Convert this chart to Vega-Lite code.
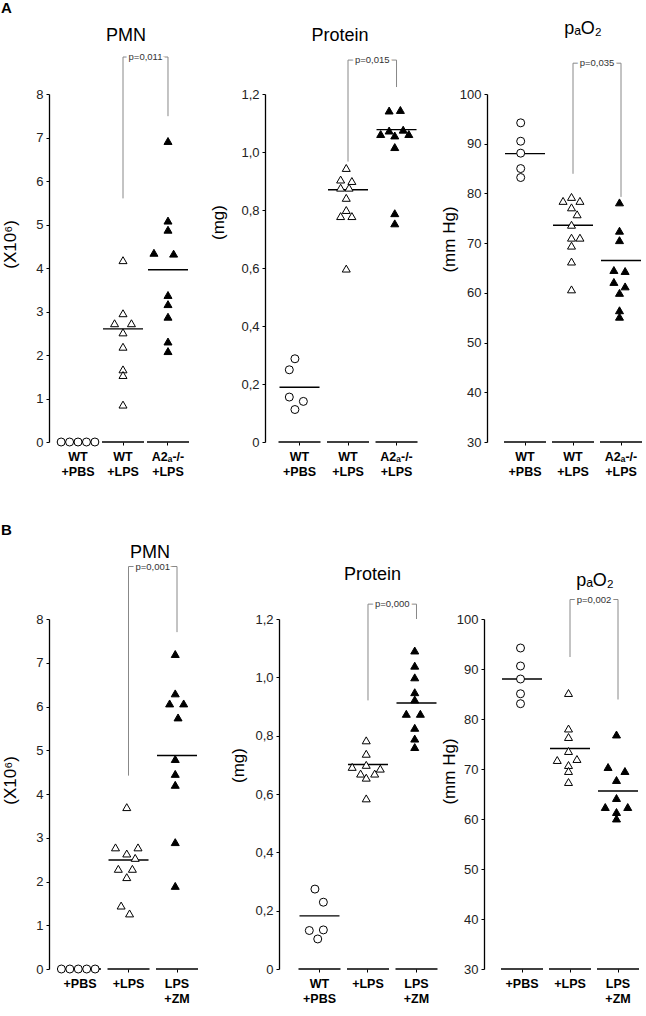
{
"$schema":"https://vega.github.io/schema/vega-lite/v6.json",
"padding":{"left":1,"top":1,"right":0,"bottom":0},
"background":"white",
"config":{
 "view":{"stroke":null},
 "font":"Liberation Sans",
 "tick":{"opacity":1},
 "axisX":{"domain":false,"ticks":true,"tickSize":3,"tickColor":"black","tickWidth":1,"labelFontWeight":"bold","labelFontSize":12.5,"labelColor":"black","labelPadding":5,"labelLineHeight":15,"labelAngle":0,"labelLimit":0,"labelExpr":"split(datum.value,'|')","grid":false},
 "axisY":{"grid":false,"domainColor":"black","domainWidth":1.3,"tickColor":"black","tickSize":3,"labelFontSize":13,"labelColor":"#222","labelPadding":3,"titleFontSize":17,"titleFontWeight":"normal","titleColor":"black"},
 "title":{"fontSize":18,"fontWeight":"normal","color":"black","font":"Liberation Sans","frame":"group"}
},
"datasets":{
"points":[
{"panel":"A1","group":"WT|+PBS","value":0,"slot":-6},{"panel":"A1","group":"WT|+PBS","value":0,"slot":-3},{"panel":"A1","group":"WT|+PBS","value":0,"slot":0},{"panel":"A1","group":"WT|+PBS","value":0,"slot":3},{"panel":"A1","group":"WT|+PBS","value":0,"slot":6},
{"panel":"A1","group":"WT|+LPS","value":4.18,"slot":0},{"panel":"A1","group":"WT|+LPS","value":2.96,"slot":0},{"panel":"A1","group":"WT|+LPS","value":2.73,"slot":-3},{"panel":"A1","group":"WT|+LPS","value":2.73,"slot":3},{"panel":"A1","group":"WT|+LPS","value":2.52,"slot":0},{"panel":"A1","group":"WT|+LPS","value":2.19,"slot":0},{"panel":"A1","group":"WT|+LPS","value":1.67,"slot":0},{"panel":"A1","group":"WT|+LPS","value":1.54,"slot":0},{"panel":"A1","group":"WT|+LPS","value":0.86,"slot":0},
{"panel":"A1","group":"A2ₐ-/-|+LPS","value":6.92,"slot":0},{"panel":"A1","group":"A2ₐ-/-|+LPS","value":5.09,"slot":0},{"panel":"A1","group":"A2ₐ-/-|+LPS","value":4.88,"slot":0},{"panel":"A1","group":"A2ₐ-/-|+LPS","value":4.35,"slot":-5},{"panel":"A1","group":"A2ₐ-/-|+LPS","value":4.33,"slot":2},{"panel":"A1","group":"A2ₐ-/-|+LPS","value":3.38,"slot":0},{"panel":"A1","group":"A2ₐ-/-|+LPS","value":3.17,"slot":0},{"panel":"A1","group":"A2ₐ-/-|+LPS","value":2.88,"slot":0},{"panel":"A1","group":"A2ₐ-/-|+LPS","value":2.31,"slot":0},{"panel":"A1","group":"A2ₐ-/-|+LPS","value":2.09,"slot":0},
{"panel":"A2","group":"WT|+PBS","value":0.287,"slot":-1},{"panel":"A2","group":"WT|+PBS","value":0.249,"slot":-3},{"panel":"A2","group":"WT|+PBS","value":0.155,"slot":-3},{"panel":"A2","group":"WT|+PBS","value":0.14,"slot":2},{"panel":"A2","group":"WT|+PBS","value":0.112,"slot":-1},
{"panel":"A2","group":"WT|+LPS","value":0.945,"slot":0},{"panel":"A2","group":"WT|+LPS","value":0.905,"slot":-2},{"panel":"A2","group":"WT|+LPS","value":0.9,"slot":2},{"panel":"A2","group":"WT|+LPS","value":0.877,"slot":-2},{"panel":"A2","group":"WT|+LPS","value":0.877,"slot":1},{"panel":"A2","group":"WT|+LPS","value":0.842,"slot":0},{"panel":"A2","group":"WT|+LPS","value":0.8,"slot":0},{"panel":"A2","group":"WT|+LPS","value":0.779,"slot":-2},{"panel":"A2","group":"WT|+LPS","value":0.779,"slot":2},{"panel":"A2","group":"WT|+LPS","value":0.598,"slot":0},
{"panel":"A2","group":"A2ₐ-/-|+LPS","value":1.143,"slot":-2},{"panel":"A2","group":"A2ₐ-/-|+LPS","value":1.145,"slot":2},{"panel":"A2","group":"A2ₐ-/-|+LPS","value":1.062,"slot":-5},{"panel":"A2","group":"A2ₐ-/-|+LPS","value":1.074,"slot":-2},{"panel":"A2","group":"A2ₐ-/-|+LPS","value":1.057,"slot":0},{"panel":"A2","group":"A2ₐ-/-|+LPS","value":1.077,"slot":3},{"panel":"A2","group":"A2ₐ-/-|+LPS","value":1.062,"slot":5},{"panel":"A2","group":"A2ₐ-/-|+LPS","value":1.017,"slot":0},{"panel":"A2","group":"A2ₐ-/-|+LPS","value":0.789,"slot":0},{"panel":"A2","group":"A2ₐ-/-|+LPS","value":0.754,"slot":0},
{"panel":"A3","group":"WT|+PBS","value":94.2,"slot":-1},{"panel":"A3","group":"WT|+PBS","value":90.5,"slot":-1},{"panel":"A3","group":"WT|+PBS","value":88.1,"slot":-1},{"panel":"A3","group":"WT|+PBS","value":85.0,"slot":-1},{"panel":"A3","group":"WT|+PBS","value":83.2,"slot":-1},
{"panel":"A3","group":"WT|+LPS","value":79.3,"slot":0},{"panel":"A3","group":"WT|+LPS","value":78.5,"slot":-3},{"panel":"A3","group":"WT|+LPS","value":78.5,"slot":3},{"panel":"A3","group":"WT|+LPS","value":77.2,"slot":0},{"panel":"A3","group":"WT|+LPS","value":75.8,"slot":2},{"panel":"A3","group":"WT|+LPS","value":73.7,"slot":0},{"panel":"A3","group":"WT|+LPS","value":71.1,"slot":0},{"panel":"A3","group":"WT|+LPS","value":71.1,"slot":3},{"panel":"A3","group":"WT|+LPS","value":69.5,"slot":0},{"panel":"A3","group":"WT|+LPS","value":66.3,"slot":0},{"panel":"A3","group":"WT|+LPS","value":60.7,"slot":0},
{"panel":"A3","group":"A2ₐ-/-|+LPS","value":78.2,"slot":0},{"panel":"A3","group":"A2ₐ-/-|+LPS","value":72.5,"slot":0},{"panel":"A3","group":"A2ₐ-/-|+LPS","value":70.6,"slot":0},{"panel":"A3","group":"A2ₐ-/-|+LPS","value":64.6,"slot":-2},{"panel":"A3","group":"A2ₐ-/-|+LPS","value":64.4,"slot":2},{"panel":"A3","group":"A2ₐ-/-|+LPS","value":62.2,"slot":-2},{"panel":"A3","group":"A2ₐ-/-|+LPS","value":61.3,"slot":2},{"panel":"A3","group":"A2ₐ-/-|+LPS","value":60.0,"slot":0},{"panel":"A3","group":"A2ₐ-/-|+LPS","value":56.5,"slot":0},{"panel":"A3","group":"A2ₐ-/-|+LPS","value":55.2,"slot":0},
{"panel":"B1","group":"+PBS","value":0,"slot":-6},{"panel":"B1","group":"+PBS","value":0,"slot":-3},{"panel":"B1","group":"+PBS","value":0,"slot":0},{"panel":"B1","group":"+PBS","value":0,"slot":3},{"panel":"B1","group":"+PBS","value":0,"slot":6},
{"panel":"B1","group":"+LPS","value":3.7,"slot":0},{"panel":"B1","group":"+LPS","value":2.78,"slot":-4},{"panel":"B1","group":"+LPS","value":2.78,"slot":4},{"panel":"B1","group":"+LPS","value":2.64,"slot":0},{"panel":"B1","group":"+LPS","value":2.54,"slot":3},{"panel":"B1","group":"+LPS","value":2.29,"slot":-3},{"panel":"B1","group":"+LPS","value":2.29,"slot":2},{"panel":"B1","group":"+LPS","value":2.1,"slot":0},{"panel":"B1","group":"+LPS","value":1.45,"slot":-2},{"panel":"B1","group":"+LPS","value":1.27,"slot":1},
{"panel":"B1","group":"LPS|+ZM","value":7.2,"slot":0},{"panel":"B1","group":"LPS|+ZM","value":6.3,"slot":0},{"panel":"B1","group":"LPS|+ZM","value":6.07,"slot":-2},{"panel":"B1","group":"LPS|+ZM","value":6.07,"slot":3},{"panel":"B1","group":"LPS|+ZM","value":5.75,"slot":1},{"panel":"B1","group":"LPS|+ZM","value":4.8,"slot":0},{"panel":"B1","group":"LPS|+ZM","value":4.46,"slot":0},{"panel":"B1","group":"LPS|+ZM","value":4.21,"slot":0},{"panel":"B1","group":"LPS|+ZM","value":2.9,"slot":0},{"panel":"B1","group":"LPS|+ZM","value":1.9,"slot":0},
{"panel":"B2","group":"WT|+PBS","value":0.274,"slot":-1},{"panel":"B2","group":"WT|+PBS","value":0.229,"slot":2},{"panel":"B2","group":"WT|+PBS","value":0.132,"slot":-3},{"panel":"B2","group":"WT|+PBS","value":0.134,"slot":2},{"panel":"B2","group":"WT|+PBS","value":0.103,"slot":0},
{"panel":"B2","group":"+LPS","value":0.784,"slot":0},{"panel":"B2","group":"+LPS","value":0.738,"slot":0},{"panel":"B2","group":"+LPS","value":0.693,"slot":-5},{"panel":"B2","group":"+LPS","value":0.7,"slot":0},{"panel":"B2","group":"+LPS","value":0.687,"slot":5},{"panel":"B2","group":"+LPS","value":0.67,"slot":-2},{"panel":"B2","group":"+LPS","value":0.67,"slot":3},{"panel":"B2","group":"+LPS","value":0.656,"slot":0},{"panel":"B2","group":"+LPS","value":0.585,"slot":0},
{"panel":"B2","group":"LPS|+ZM","value":1.092,"slot":0},{"panel":"B2","group":"LPS|+ZM","value":1.04,"slot":0},{"panel":"B2","group":"LPS|+ZM","value":1.0,"slot":0},{"panel":"B2","group":"LPS|+ZM","value":0.949,"slot":0},{"panel":"B2","group":"LPS|+ZM","value":0.924,"slot":0},{"panel":"B2","group":"LPS|+ZM","value":0.875,"slot":-3},{"panel":"B2","group":"LPS|+ZM","value":0.875,"slot":2},{"panel":"B2","group":"LPS|+ZM","value":0.827,"slot":0},{"panel":"B2","group":"LPS|+ZM","value":0.79,"slot":0},{"panel":"B2","group":"LPS|+ZM","value":0.761,"slot":0},
{"panel":"B3","group":"+PBS","value":94.2,"slot":0},{"panel":"B3","group":"+PBS","value":90.6,"slot":0},{"panel":"B3","group":"+PBS","value":88.0,"slot":0},{"panel":"B3","group":"+PBS","value":85.05,"slot":0},{"panel":"B3","group":"+PBS","value":83.06,"slot":0},
{"panel":"B3","group":"+LPS","value":85.2,"slot":0},{"panel":"B3","group":"+LPS","value":78.1,"slot":0},{"panel":"B3","group":"+LPS","value":76.4,"slot":0},{"panel":"B3","group":"+LPS","value":73.6,"slot":0},{"panel":"B3","group":"+LPS","value":71.8,"slot":-4},{"panel":"B3","group":"+LPS","value":72.0,"slot":3},{"panel":"B3","group":"+LPS","value":70.8,"slot":0},{"panel":"B3","group":"+LPS","value":69.6,"slot":0},{"panel":"B3","group":"+LPS","value":67.4,"slot":0},
{"panel":"B3","group":"LPS|+ZM","value":76.9,"slot":0},{"panel":"B3","group":"LPS|+ZM","value":70.4,"slot":-3},{"panel":"B3","group":"LPS|+ZM","value":69.6,"slot":3},{"panel":"B3","group":"LPS|+ZM","value":67.8,"slot":0},{"panel":"B3","group":"LPS|+ZM","value":64.2,"slot":0},{"panel":"B3","group":"LPS|+ZM","value":62.4,"slot":-4},{"panel":"B3","group":"LPS|+ZM","value":62.4,"slot":4},{"panel":"B3","group":"LPS|+ZM","value":61.4,"slot":0},{"panel":"B3","group":"LPS|+ZM","value":60.1,"slot":0}
],
"means":[
{"panel":"A1","group":"WT|+PBS","mean":0,"base":0},{"panel":"A1","group":"WT|+LPS","mean":2.6,"base":0},{"panel":"A1","group":"A2ₐ-/-|+LPS","mean":3.96,"base":0},
{"panel":"A2","group":"WT|+PBS","mean":0.189,"base":0},{"panel":"A2","group":"WT|+LPS","mean":0.87,"base":0},{"panel":"A2","group":"A2ₐ-/-|+LPS","mean":1.077,"base":0},
{"panel":"A3","group":"WT|+PBS","mean":88,"base":30},{"panel":"A3","group":"WT|+LPS","mean":73.6,"base":30},{"panel":"A3","group":"A2ₐ-/-|+LPS","mean":66.5,"base":30},
{"panel":"B1","group":"+PBS","mean":0,"base":0},{"panel":"B1","group":"+LPS","mean":2.49,"base":0},{"panel":"B1","group":"LPS|+ZM","mean":4.88,"base":0},
{"panel":"B2","group":"WT|+PBS","mean":0.182,"base":0},{"panel":"B2","group":"+LPS","mean":0.701,"base":0},{"panel":"B2","group":"LPS|+ZM","mean":0.912,"base":0},
{"panel":"B3","group":"+PBS","mean":88,"base":30},{"panel":"B3","group":"+LPS","mean":74.1,"base":30},{"panel":"B3","group":"LPS|+ZM","mean":65.6,"base":30}
],
"brackets":[
{"panel":"A1","g1":"WT|+LPS","g2":"A2ₐ-/-|+LPS","lo1":5.6,"lo2":7.49,"top":8.85,"p":"p=0,011"},
{"panel":"A2","g1":"WT|+LPS","g2":"A2ₐ-/-|+LPS","lo1":0.967,"lo2":1.224,"top":1.317,"p":"p=0,015"},
{"panel":"A3","g1":"WT|+LPS","g2":"A2ₐ-/-|+LPS","lo1":83.95,"lo2":79.3,"top":106.2,"p":"p=0,035"},
{"panel":"B1","g1":"+LPS","g2":"LPS|+ZM","lo1":4.42,"lo2":7.7,"top":9.2,"p":"p=0,001"},
{"panel":"B2","g1":"+LPS","g2":"LPS|+ZM","lo1":0.921,"lo2":1.2,"top":1.251,"p":"p=0,000"},
{"panel":"B3","g1":"+LPS","g2":"LPS|+ZM","lo1":92.4,"lo2":83.9,"top":103.9,"p":"p=0,002"}
]
},
"spacing":525,
"bounds":"flush",
"vconcat":[
{"title":{"text":"A","anchor":"start","fontSize":15,"fontWeight":"bold","offset":4,"frame":"bounds"},
 "spacing":40,"bounds":"flush",
 "hconcat":[
 {"width":176,"height":348,"title":{"text":"PMN","dx":-11,"offset":7},
  "layer":[
   {"data":{"name":"means"},"transform":[{"filter":"datum.panel==='A1'"}],"mark":{"type":"tick","color":"black","size":42,"thickness":1.4},
    "encoding":{"x":{"field":"group","type":"nominal","scale":{"domain":["WT|+PBS","WT|+LPS","A2ₐ-/-|+LPS"],"paddingInner":0,"paddingOuter":0.456,"align":0.159},"axis":{"title":null}},
     "y":{"field":"base","type":"quantitative","scale":{"domain":[0,8],"nice":false,"zero":false},"axis":{"title":"(X10⁶)","values":[0,1,2,3,4,5,6,7,8],"titleX":-30,"titleY":150}}}},
   {"data":{"name":"means"},"transform":[{"filter":"datum.panel==='A1'"}],"mark":{"type":"tick","color":"black","size":40,"thickness":1.4},
    "encoding":{"x":{"field":"group","type":"nominal","scale":{"domain":["WT|+PBS","WT|+LPS","A2ₐ-/-|+LPS"],"paddingInner":0,"paddingOuter":0.456,"align":0.159}},
     "y":{"field":"mean","type":"quantitative","scale":{"domain":[0,8],"nice":false,"zero":false}}}},
   {"data":{"name":"points"},"transform":[{"filter":"datum.panel==='A1'"}],"mark":{"type":"point","filled":true,"stroke":"black","strokeWidth":1,"opacity":1},
    "encoding":{"x":{"field":"group","type":"nominal","scale":{"domain":["WT|+PBS","WT|+LPS","A2ₐ-/-|+LPS"],"paddingInner":0,"paddingOuter":0.456,"align":0.159}},
     "xOffset":{"field":"slot","type":"ordinal","scale":{"domain":[-8,-7,-6,-5,-4,-3,-2,-1,0,1,2,3,4,5,6,7,8],"paddingInner":0,"paddingOuter":0}},
     "y":{"field":"value","type":"quantitative","scale":{"domain":[0,8],"nice":false,"zero":false}},
     "shape":{"field":"group","type":"nominal","scale":{"domain":["WT|+PBS","+PBS","WT|+LPS","+LPS","A2ₐ-/-|+LPS","LPS|+ZM"],"range":["circle","circle","triangle-up","triangle-up","triangle-up","triangle-up"]},"legend":null},
     "fill":{"field":"group","type":"nominal","scale":{"domain":["WT|+PBS","+PBS","WT|+LPS","+LPS","A2ₐ-/-|+LPS","LPS|+ZM"],"range":["white","white","white","white","black","black"]},"legend":null},
     "size":{"field":"group","type":"nominal","scale":{"domain":["WT|+PBS","+PBS","WT|+LPS","+LPS","A2ₐ-/-|+LPS","LPS|+ZM"],"range":[64,64,140,140,150,150]},"legend":null}}},
   {"data":{"name":"brackets"},"transform":[{"filter":"datum.panel==='A1'"}],"mark":{"type":"rule","color":"#888","strokeWidth":1},
    "encoding":{"x":{"field":"g1","type":"nominal","scale":{"domain":["WT|+PBS","WT|+LPS","A2ₐ-/-|+LPS"],"paddingInner":0,"paddingOuter":0.456,"align":0.159}},"y":{"field":"lo1","type":"quantitative","scale":{"domain":[0,8],"nice":false,"zero":false}},"y2":{"field":"top"}}},
   {"data":{"name":"brackets"},"transform":[{"filter":"datum.panel==='A1'"}],"mark":{"type":"rule","color":"#888","strokeWidth":1},
    "encoding":{"x":{"field":"g2","type":"nominal","scale":{"domain":["WT|+PBS","WT|+LPS","A2ₐ-/-|+LPS"],"paddingInner":0,"paddingOuter":0.456,"align":0.159}},"y":{"field":"lo2","type":"quantitative","scale":{"domain":[0,8],"nice":false,"zero":false}},"y2":{"field":"top"}}},
   {"data":{"name":"brackets"},"transform":[{"filter":"datum.panel==='A1'"}],"mark":{"type":"rule","color":"#888","strokeWidth":1},
    "encoding":{"x":{"field":"g1","type":"nominal","scale":{"domain":["WT|+PBS","WT|+LPS","A2ₐ-/-|+LPS"],"paddingInner":0,"paddingOuter":0.456,"align":0.159}},"x2":{"field":"g2"},"y":{"field":"top","type":"quantitative","scale":{"domain":[0,8],"nice":false,"zero":false}}}},
   {"data":{"name":"brackets"},"transform":[{"filter":"datum.panel==='A1'"}],"mark":{"type":"text","fontSize":9.5,"color":"white","stroke":"white","strokeWidth":5,"baseline":"middle"},
    "encoding":{"x":{"field":"g1","type":"nominal","bandPosition":1,"scale":{"domain":["WT|+PBS","WT|+LPS","A2ₐ-/-|+LPS"],"paddingInner":0,"paddingOuter":0.456,"align":0.159}},"y":{"field":"top","type":"quantitative","scale":{"domain":[0,8],"nice":false,"zero":false}},"text":{"field":"p"}}},
   {"data":{"name":"brackets"},"transform":[{"filter":"datum.panel==='A1'"}],"mark":{"type":"text","fontSize":9.5,"color":"#333","baseline":"middle"},
    "encoding":{"x":{"field":"g1","type":"nominal","bandPosition":1,"scale":{"domain":["WT|+PBS","WT|+LPS","A2ₐ-/-|+LPS"],"paddingInner":0,"paddingOuter":0.456,"align":0.159}},"y":{"field":"top","type":"quantitative","scale":{"domain":[0,8],"nice":false,"zero":false}},"text":{"field":"p"}}}
  ]},
 {"width":182,"height":348,"title":{"text":"Protein","dx":-16,"offset":10},
  "layer":[
   {"data":{"name":"means"},"transform":[{"filter":"datum.panel==='A2'"}],"mark":{"type":"tick","color":"black","size":42,"thickness":1.4},
    "encoding":{"x":{"field":"group","type":"nominal","scale":{"domain":["WT|+PBS","WT|+LPS","A2ₐ-/-|+LPS"],"paddingInner":0,"paddingOuter":0.376,"align":0.281},"axis":{"title":null}},
     "y":{"field":"base","type":"quantitative","scale":{"domain":[0,1.2],"nice":false,"zero":false},"axis":{"title":"(mg)","values":[0,0.2,0.4,0.6,0.8,1.0,1.2],"labelExpr":"datum.value == 0 ? '0' : replace(format(datum.value, '.1f'), '.', ',')","titleX":-38,"titleY":128}}}},
   {"data":{"name":"means"},"transform":[{"filter":"datum.panel==='A2'"}],"mark":{"type":"tick","color":"black","size":40,"thickness":1.4},
    "encoding":{"x":{"field":"group","type":"nominal","scale":{"domain":["WT|+PBS","WT|+LPS","A2ₐ-/-|+LPS"],"paddingInner":0,"paddingOuter":0.376,"align":0.281}},
     "y":{"field":"mean","type":"quantitative","scale":{"domain":[0,1.2],"nice":false,"zero":false}}}},
   {"data":{"name":"points"},"transform":[{"filter":"datum.panel==='A2'"}],"mark":{"type":"point","filled":true,"stroke":"black","strokeWidth":1,"opacity":1},
    "encoding":{"x":{"field":"group","type":"nominal","scale":{"domain":["WT|+PBS","WT|+LPS","A2ₐ-/-|+LPS"],"paddingInner":0,"paddingOuter":0.376,"align":0.281}},
     "xOffset":{"field":"slot","type":"ordinal","scale":{"domain":[-8,-7,-6,-5,-4,-3,-2,-1,0,1,2,3,4,5,6,7,8],"paddingInner":0,"paddingOuter":0}},
     "y":{"field":"value","type":"quantitative","scale":{"domain":[0,1.2],"nice":false,"zero":false}},
     "shape":{"field":"group","type":"nominal","scale":{"domain":["WT|+PBS","+PBS","WT|+LPS","+LPS","A2ₐ-/-|+LPS","LPS|+ZM"],"range":["circle","circle","triangle-up","triangle-up","triangle-up","triangle-up"]},"legend":null},
     "fill":{"field":"group","type":"nominal","scale":{"domain":["WT|+PBS","+PBS","WT|+LPS","+LPS","A2ₐ-/-|+LPS","LPS|+ZM"],"range":["white","white","white","white","black","black"]},"legend":null},
     "size":{"field":"group","type":"nominal","scale":{"domain":["WT|+PBS","+PBS","WT|+LPS","+LPS","A2ₐ-/-|+LPS","LPS|+ZM"],"range":[64,64,140,140,150,150]},"legend":null}}},
   {"data":{"name":"brackets"},"transform":[{"filter":"datum.panel==='A2'"}],"mark":{"type":"rule","color":"#888","strokeWidth":1},
    "encoding":{"x":{"field":"g1","type":"nominal","scale":{"domain":["WT|+PBS","WT|+LPS","A2ₐ-/-|+LPS"],"paddingInner":0,"paddingOuter":0.376,"align":0.281}},"y":{"field":"lo1","type":"quantitative","scale":{"domain":[0,1.2],"nice":false,"zero":false}},"y2":{"field":"top"}}},
   {"data":{"name":"brackets"},"transform":[{"filter":"datum.panel==='A2'"}],"mark":{"type":"rule","color":"#888","strokeWidth":1},
    "encoding":{"x":{"field":"g2","type":"nominal","scale":{"domain":["WT|+PBS","WT|+LPS","A2ₐ-/-|+LPS"],"paddingInner":0,"paddingOuter":0.376,"align":0.281}},"y":{"field":"lo2","type":"quantitative","scale":{"domain":[0,1.2],"nice":false,"zero":false}},"y2":{"field":"top"}}},
   {"data":{"name":"brackets"},"transform":[{"filter":"datum.panel==='A2'"}],"mark":{"type":"rule","color":"#888","strokeWidth":1},
    "encoding":{"x":{"field":"g1","type":"nominal","scale":{"domain":["WT|+PBS","WT|+LPS","A2ₐ-/-|+LPS"],"paddingInner":0,"paddingOuter":0.376,"align":0.281}},"x2":{"field":"g2"},"y":{"field":"top","type":"quantitative","scale":{"domain":[0,1.2],"nice":false,"zero":false}}}},
   {"data":{"name":"brackets"},"transform":[{"filter":"datum.panel==='A2'"}],"mark":{"type":"text","fontSize":9.5,"color":"white","stroke":"white","strokeWidth":5,"baseline":"middle"},
    "encoding":{"x":{"field":"g1","type":"nominal","bandPosition":1,"scale":{"domain":["WT|+PBS","WT|+LPS","A2ₐ-/-|+LPS"],"paddingInner":0,"paddingOuter":0.376,"align":0.281}},"y":{"field":"top","type":"quantitative","scale":{"domain":[0,1.2],"nice":false,"zero":false}},"text":{"field":"p"}}},
   {"data":{"name":"brackets"},"transform":[{"filter":"datum.panel==='A2'"}],"mark":{"type":"text","fontSize":9.5,"color":"#333","baseline":"middle"},
    "encoding":{"x":{"field":"g1","type":"nominal","bandPosition":1,"scale":{"domain":["WT|+PBS","WT|+LPS","A2ₐ-/-|+LPS"],"paddingInner":0,"paddingOuter":0.376,"align":0.281}},"y":{"field":"top","type":"quantitative","scale":{"domain":[0,1.2],"nice":false,"zero":false}},"text":{"field":"p"}}}
  ]},
 {"width":158,"height":348,"title":{"text":"pₐO₂","dx":17,"offset":20},
  "layer":[
   {"data":{"name":"means"},"transform":[{"filter":"datum.panel==='A3'"}],"mark":{"type":"tick","color":"black","size":42,"thickness":1.4},
    "encoding":{"x":{"field":"group","type":"nominal","scale":{"domain":["WT|+PBS","WT|+LPS","A2ₐ-/-|+LPS"],"paddingInner":0,"paddingOuter":0.146,"align":1},"axis":{"title":null}},
     "y":{"field":"base","type":"quantitative","scale":{"domain":[30,100],"nice":false,"zero":false},"axis":{"title":"(mm Hg)","values":[30,40,50,60,70,80,90,100],"titleX":-29,"titleY":145}}}},
   {"data":{"name":"means"},"transform":[{"filter":"datum.panel==='A3'"}],"mark":{"type":"tick","color":"black","size":40,"thickness":1.4},
    "encoding":{"x":{"field":"group","type":"nominal","scale":{"domain":["WT|+PBS","WT|+LPS","A2ₐ-/-|+LPS"],"paddingInner":0,"paddingOuter":0.146,"align":1}},
     "y":{"field":"mean","type":"quantitative","scale":{"domain":[30,100],"nice":false,"zero":false}}}},
   {"data":{"name":"points"},"transform":[{"filter":"datum.panel==='A3'"}],"mark":{"type":"point","filled":true,"stroke":"black","strokeWidth":1,"opacity":1},
    "encoding":{"x":{"field":"group","type":"nominal","scale":{"domain":["WT|+PBS","WT|+LPS","A2ₐ-/-|+LPS"],"paddingInner":0,"paddingOuter":0.146,"align":1}},
     "xOffset":{"field":"slot","type":"ordinal","scale":{"domain":[-8,-7,-6,-5,-4,-3,-2,-1,0,1,2,3,4,5,6,7,8],"paddingInner":0,"paddingOuter":0}},
     "y":{"field":"value","type":"quantitative","scale":{"domain":[30,100],"nice":false,"zero":false}},
     "shape":{"field":"group","type":"nominal","scale":{"domain":["WT|+PBS","+PBS","WT|+LPS","+LPS","A2ₐ-/-|+LPS","LPS|+ZM"],"range":["circle","circle","triangle-up","triangle-up","triangle-up","triangle-up"]},"legend":null},
     "fill":{"field":"group","type":"nominal","scale":{"domain":["WT|+PBS","+PBS","WT|+LPS","+LPS","A2ₐ-/-|+LPS","LPS|+ZM"],"range":["white","white","white","white","black","black"]},"legend":null},
     "size":{"field":"group","type":"nominal","scale":{"domain":["WT|+PBS","+PBS","WT|+LPS","+LPS","A2ₐ-/-|+LPS","LPS|+ZM"],"range":[64,64,140,140,150,150]},"legend":null}}},
   {"data":{"name":"brackets"},"transform":[{"filter":"datum.panel==='A3'"}],"mark":{"type":"rule","color":"#888","strokeWidth":1},
    "encoding":{"x":{"field":"g1","type":"nominal","scale":{"domain":["WT|+PBS","WT|+LPS","A2ₐ-/-|+LPS"],"paddingInner":0,"paddingOuter":0.146,"align":1}},"y":{"field":"lo1","type":"quantitative","scale":{"domain":[30,100],"nice":false,"zero":false}},"y2":{"field":"top"}}},
   {"data":{"name":"brackets"},"transform":[{"filter":"datum.panel==='A3'"}],"mark":{"type":"rule","color":"#888","strokeWidth":1},
    "encoding":{"x":{"field":"g2","type":"nominal","scale":{"domain":["WT|+PBS","WT|+LPS","A2ₐ-/-|+LPS"],"paddingInner":0,"paddingOuter":0.146,"align":1}},"y":{"field":"lo2","type":"quantitative","scale":{"domain":[30,100],"nice":false,"zero":false}},"y2":{"field":"top"}}},
   {"data":{"name":"brackets"},"transform":[{"filter":"datum.panel==='A3'"}],"mark":{"type":"rule","color":"#888","strokeWidth":1},
    "encoding":{"x":{"field":"g1","type":"nominal","scale":{"domain":["WT|+PBS","WT|+LPS","A2ₐ-/-|+LPS"],"paddingInner":0,"paddingOuter":0.146,"align":1}},"x2":{"field":"g2"},"y":{"field":"top","type":"quantitative","scale":{"domain":[30,100],"nice":false,"zero":false}}}},
   {"data":{"name":"brackets"},"transform":[{"filter":"datum.panel==='A3'"}],"mark":{"type":"text","fontSize":9.5,"color":"white","stroke":"white","strokeWidth":5,"baseline":"middle"},
    "encoding":{"x":{"field":"g1","type":"nominal","bandPosition":1,"scale":{"domain":["WT|+PBS","WT|+LPS","A2ₐ-/-|+LPS"],"paddingInner":0,"paddingOuter":0.146,"align":1}},"y":{"field":"top","type":"quantitative","scale":{"domain":[30,100],"nice":false,"zero":false}},"text":{"field":"p"}}},
   {"data":{"name":"brackets"},"transform":[{"filter":"datum.panel==='A3'"}],"mark":{"type":"text","fontSize":9.5,"color":"#333","baseline":"middle"},
    "encoding":{"x":{"field":"g1","type":"nominal","bandPosition":1,"scale":{"domain":["WT|+PBS","WT|+LPS","A2ₐ-/-|+LPS"],"paddingInner":0,"paddingOuter":0.146,"align":1}},"y":{"field":"top","type":"quantitative","scale":{"domain":[30,100],"nice":false,"zero":false}},"text":{"field":"p"}}}
  ]}
 ]},
{"title":{"text":"B","anchor":"start","fontSize":15,"fontWeight":"bold","offset":6,"frame":"bounds"},
 "spacing":40,"bounds":"flush",
 "hconcat":[
 {"width":190,"height":350,"title":{"text":"PMN","dx":6,"offset":0},
  "layer":[
   {"data":{"name":"means"},"transform":[{"filter":"datum.panel==='B1'"}],"mark":{"type":"tick","color":"black","size":42,"thickness":1.4},
    "encoding":{"x":{"field":"group","type":"nominal","scale":{"domain":["+PBS","+LPS","LPS|+ZM"],"paddingInner":0,"paddingOuter":0.459,"align":0.152},"axis":{"title":null}},
     "y":{"field":"base","type":"quantitative","scale":{"domain":[0,8],"nice":false,"zero":false},"axis":{"title":"(X10⁶)","values":[0,1,2,3,4,5,6,7,8],"titleX":-30,"titleY":161}}}},
   {"data":{"name":"means"},"transform":[{"filter":"datum.panel==='B1'"}],"mark":{"type":"tick","color":"black","size":40,"thickness":1.4},
    "encoding":{"x":{"field":"group","type":"nominal","scale":{"domain":["+PBS","+LPS","LPS|+ZM"],"paddingInner":0,"paddingOuter":0.459,"align":0.152}},
     "y":{"field":"mean","type":"quantitative","scale":{"domain":[0,8],"nice":false,"zero":false}}}},
   {"data":{"name":"points"},"transform":[{"filter":"datum.panel==='B1'"}],"mark":{"type":"point","filled":true,"stroke":"black","strokeWidth":1,"opacity":1},
    "encoding":{"x":{"field":"group","type":"nominal","scale":{"domain":["+PBS","+LPS","LPS|+ZM"],"paddingInner":0,"paddingOuter":0.459,"align":0.152}},
     "xOffset":{"field":"slot","type":"ordinal","scale":{"domain":[-8,-7,-6,-5,-4,-3,-2,-1,0,1,2,3,4,5,6,7,8],"paddingInner":0,"paddingOuter":0}},
     "y":{"field":"value","type":"quantitative","scale":{"domain":[0,8],"nice":false,"zero":false}},
     "shape":{"field":"group","type":"nominal","scale":{"domain":["WT|+PBS","+PBS","WT|+LPS","+LPS","A2ₐ-/-|+LPS","LPS|+ZM"],"range":["circle","circle","triangle-up","triangle-up","triangle-up","triangle-up"]},"legend":null},
     "fill":{"field":"group","type":"nominal","scale":{"domain":["WT|+PBS","+PBS","WT|+LPS","+LPS","A2ₐ-/-|+LPS","LPS|+ZM"],"range":["white","white","white","white","black","black"]},"legend":null},
     "size":{"field":"group","type":"nominal","scale":{"domain":["WT|+PBS","+PBS","WT|+LPS","+LPS","A2ₐ-/-|+LPS","LPS|+ZM"],"range":[64,64,140,140,150,150]},"legend":null}}},
   {"data":{"name":"brackets"},"transform":[{"filter":"datum.panel==='B1'"}],"mark":{"type":"rule","color":"#888","strokeWidth":1},
    "encoding":{"x":{"field":"g1","type":"nominal","scale":{"domain":["+PBS","+LPS","LPS|+ZM"],"paddingInner":0,"paddingOuter":0.459,"align":0.152}},"y":{"field":"lo1","type":"quantitative","scale":{"domain":[0,8],"nice":false,"zero":false}},"y2":{"field":"top"}}},
   {"data":{"name":"brackets"},"transform":[{"filter":"datum.panel==='B1'"}],"mark":{"type":"rule","color":"#888","strokeWidth":1},
    "encoding":{"x":{"field":"g2","type":"nominal","scale":{"domain":["+PBS","+LPS","LPS|+ZM"],"paddingInner":0,"paddingOuter":0.459,"align":0.152}},"y":{"field":"lo2","type":"quantitative","scale":{"domain":[0,8],"nice":false,"zero":false}},"y2":{"field":"top"}}},
   {"data":{"name":"brackets"},"transform":[{"filter":"datum.panel==='B1'"}],"mark":{"type":"rule","color":"#888","strokeWidth":1},
    "encoding":{"x":{"field":"g1","type":"nominal","scale":{"domain":["+PBS","+LPS","LPS|+ZM"],"paddingInner":0,"paddingOuter":0.459,"align":0.152}},"x2":{"field":"g2"},"y":{"field":"top","type":"quantitative","scale":{"domain":[0,8],"nice":false,"zero":false}}}},
   {"data":{"name":"brackets"},"transform":[{"filter":"datum.panel==='B1'"}],"mark":{"type":"text","fontSize":9.5,"color":"white","stroke":"white","strokeWidth":5,"baseline":"middle"},
    "encoding":{"x":{"field":"g1","type":"nominal","bandPosition":1,"scale":{"domain":["+PBS","+LPS","LPS|+ZM"],"paddingInner":0,"paddingOuter":0.459,"align":0.152}},"y":{"field":"top","type":"quantitative","scale":{"domain":[0,8],"nice":false,"zero":false}},"text":{"field":"p"}}},
   {"data":{"name":"brackets"},"transform":[{"filter":"datum.panel==='B1'"}],"mark":{"type":"text","fontSize":9.5,"color":"#333","baseline":"middle"},
    "encoding":{"x":{"field":"g1","type":"nominal","bandPosition":1,"scale":{"domain":["+PBS","+LPS","LPS|+ZM"],"paddingInner":0,"paddingOuter":0.459,"align":0.152}},"y":{"field":"top","type":"quantitative","scale":{"domain":[0,8],"nice":false,"zero":false}},"text":{"field":"p"}}}
  ]},
 {"width":165,"height":350,"title":{"text":"Protein","dx":11,"offset":15},
  "layer":[
   {"data":{"name":"means"},"transform":[{"filter":"datum.panel==='B2'"}],"mark":{"type":"tick","color":"black","size":42,"thickness":1.4},
    "encoding":{"x":{"field":"group","type":"nominal","scale":{"domain":["WT|+PBS","+LPS","LPS|+ZM"],"paddingInner":0,"paddingOuter":0.201,"align":0.833},"axis":{"title":null}},
     "y":{"field":"base","type":"quantitative","scale":{"domain":[0,1.2],"nice":false,"zero":false},"axis":{"title":"(mg)","values":[0,0.2,0.4,0.6,0.8,1.0,1.2],"labelExpr":"datum.value == 0 ? '0' : replace(format(datum.value, '.1f'), '.', ',')","titleX":-32,"titleY":146}}}},
   {"data":{"name":"means"},"transform":[{"filter":"datum.panel==='B2'"}],"mark":{"type":"tick","color":"black","size":40,"thickness":1.4},
    "encoding":{"x":{"field":"group","type":"nominal","scale":{"domain":["WT|+PBS","+LPS","LPS|+ZM"],"paddingInner":0,"paddingOuter":0.201,"align":0.833}},
     "y":{"field":"mean","type":"quantitative","scale":{"domain":[0,1.2],"nice":false,"zero":false}}}},
   {"data":{"name":"points"},"transform":[{"filter":"datum.panel==='B2'"}],"mark":{"type":"point","filled":true,"stroke":"black","strokeWidth":1,"opacity":1},
    "encoding":{"x":{"field":"group","type":"nominal","scale":{"domain":["WT|+PBS","+LPS","LPS|+ZM"],"paddingInner":0,"paddingOuter":0.201,"align":0.833}},
     "xOffset":{"field":"slot","type":"ordinal","scale":{"domain":[-8,-7,-6,-5,-4,-3,-2,-1,0,1,2,3,4,5,6,7,8],"paddingInner":0,"paddingOuter":0}},
     "y":{"field":"value","type":"quantitative","scale":{"domain":[0,1.2],"nice":false,"zero":false}},
     "shape":{"field":"group","type":"nominal","scale":{"domain":["WT|+PBS","+PBS","WT|+LPS","+LPS","A2ₐ-/-|+LPS","LPS|+ZM"],"range":["circle","circle","triangle-up","triangle-up","triangle-up","triangle-up"]},"legend":null},
     "fill":{"field":"group","type":"nominal","scale":{"domain":["WT|+PBS","+PBS","WT|+LPS","+LPS","A2ₐ-/-|+LPS","LPS|+ZM"],"range":["white","white","white","white","black","black"]},"legend":null},
     "size":{"field":"group","type":"nominal","scale":{"domain":["WT|+PBS","+PBS","WT|+LPS","+LPS","A2ₐ-/-|+LPS","LPS|+ZM"],"range":[64,64,140,140,150,150]},"legend":null}}},
   {"data":{"name":"brackets"},"transform":[{"filter":"datum.panel==='B2'"}],"mark":{"type":"rule","color":"#888","strokeWidth":1},
    "encoding":{"x":{"field":"g1","type":"nominal","scale":{"domain":["WT|+PBS","+LPS","LPS|+ZM"],"paddingInner":0,"paddingOuter":0.201,"align":0.833}},"y":{"field":"lo1","type":"quantitative","scale":{"domain":[0,1.2],"nice":false,"zero":false}},"y2":{"field":"top"}}},
   {"data":{"name":"brackets"},"transform":[{"filter":"datum.panel==='B2'"}],"mark":{"type":"rule","color":"#888","strokeWidth":1},
    "encoding":{"x":{"field":"g2","type":"nominal","scale":{"domain":["WT|+PBS","+LPS","LPS|+ZM"],"paddingInner":0,"paddingOuter":0.201,"align":0.833}},"y":{"field":"lo2","type":"quantitative","scale":{"domain":[0,1.2],"nice":false,"zero":false}},"y2":{"field":"top"}}},
   {"data":{"name":"brackets"},"transform":[{"filter":"datum.panel==='B2'"}],"mark":{"type":"rule","color":"#888","strokeWidth":1},
    "encoding":{"x":{"field":"g1","type":"nominal","scale":{"domain":["WT|+PBS","+LPS","LPS|+ZM"],"paddingInner":0,"paddingOuter":0.201,"align":0.833}},"x2":{"field":"g2"},"y":{"field":"top","type":"quantitative","scale":{"domain":[0,1.2],"nice":false,"zero":false}}}},
   {"data":{"name":"brackets"},"transform":[{"filter":"datum.panel==='B2'"}],"mark":{"type":"text","fontSize":9.5,"color":"white","stroke":"white","strokeWidth":5,"baseline":"middle"},
    "encoding":{"x":{"field":"g1","type":"nominal","bandPosition":1,"scale":{"domain":["WT|+PBS","+LPS","LPS|+ZM"],"paddingInner":0,"paddingOuter":0.201,"align":0.833}},"y":{"field":"top","type":"quantitative","scale":{"domain":[0,1.2],"nice":false,"zero":false}},"text":{"field":"p"}}},
   {"data":{"name":"brackets"},"transform":[{"filter":"datum.panel==='B2'"}],"mark":{"type":"text","fontSize":9.5,"color":"#333","baseline":"middle"},
    "encoding":{"x":{"field":"g1","type":"nominal","bandPosition":1,"scale":{"domain":["WT|+PBS","+LPS","LPS|+ZM"],"paddingInner":0,"paddingOuter":0.201,"align":0.833}},"y":{"field":"top","type":"quantitative","scale":{"domain":[0,1.2],"nice":false,"zero":false}},"text":{"field":"p"}}}
  ]},
 {"width":158,"height":350,"title":{"text":"pₐO₂","dx":32,"offset":5},
  "layer":[
   {"data":{"name":"means"},"transform":[{"filter":"datum.panel==='B3'"}],"mark":{"type":"tick","color":"black","size":42,"thickness":1.4},
    "encoding":{"x":{"field":"group","type":"nominal","scale":{"domain":["+PBS","+LPS","LPS|+ZM"],"paddingInner":0,"paddingOuter":0.146,"align":1},"axis":{"title":null}},
     "y":{"field":"base","type":"quantitative","scale":{"domain":[30,100],"nice":false,"zero":false},"axis":{"title":"(mm Hg)","values":[30,40,50,60,70,80,90,100],"titleX":-26,"titleY":152}}}},
   {"data":{"name":"means"},"transform":[{"filter":"datum.panel==='B3'"}],"mark":{"type":"tick","color":"black","size":40,"thickness":1.4},
    "encoding":{"x":{"field":"group","type":"nominal","scale":{"domain":["+PBS","+LPS","LPS|+ZM"],"paddingInner":0,"paddingOuter":0.146,"align":1}},
     "y":{"field":"mean","type":"quantitative","scale":{"domain":[30,100],"nice":false,"zero":false}}}},
   {"data":{"name":"points"},"transform":[{"filter":"datum.panel==='B3'"}],"mark":{"type":"point","filled":true,"stroke":"black","strokeWidth":1,"opacity":1},
    "encoding":{"x":{"field":"group","type":"nominal","scale":{"domain":["+PBS","+LPS","LPS|+ZM"],"paddingInner":0,"paddingOuter":0.146,"align":1}},
     "xOffset":{"field":"slot","type":"ordinal","scale":{"domain":[-8,-7,-6,-5,-4,-3,-2,-1,0,1,2,3,4,5,6,7,8],"paddingInner":0,"paddingOuter":0}},
     "y":{"field":"value","type":"quantitative","scale":{"domain":[30,100],"nice":false,"zero":false}},
     "shape":{"field":"group","type":"nominal","scale":{"domain":["WT|+PBS","+PBS","WT|+LPS","+LPS","A2ₐ-/-|+LPS","LPS|+ZM"],"range":["circle","circle","triangle-up","triangle-up","triangle-up","triangle-up"]},"legend":null},
     "fill":{"field":"group","type":"nominal","scale":{"domain":["WT|+PBS","+PBS","WT|+LPS","+LPS","A2ₐ-/-|+LPS","LPS|+ZM"],"range":["white","white","white","white","black","black"]},"legend":null},
     "size":{"field":"group","type":"nominal","scale":{"domain":["WT|+PBS","+PBS","WT|+LPS","+LPS","A2ₐ-/-|+LPS","LPS|+ZM"],"range":[64,64,140,140,150,150]},"legend":null}}},
   {"data":{"name":"brackets"},"transform":[{"filter":"datum.panel==='B3'"}],"mark":{"type":"rule","color":"#888","strokeWidth":1},
    "encoding":{"x":{"field":"g1","type":"nominal","scale":{"domain":["+PBS","+LPS","LPS|+ZM"],"paddingInner":0,"paddingOuter":0.146,"align":1}},"y":{"field":"lo1","type":"quantitative","scale":{"domain":[30,100],"nice":false,"zero":false}},"y2":{"field":"top"}}},
   {"data":{"name":"brackets"},"transform":[{"filter":"datum.panel==='B3'"}],"mark":{"type":"rule","color":"#888","strokeWidth":1},
    "encoding":{"x":{"field":"g2","type":"nominal","scale":{"domain":["+PBS","+LPS","LPS|+ZM"],"paddingInner":0,"paddingOuter":0.146,"align":1}},"y":{"field":"lo2","type":"quantitative","scale":{"domain":[30,100],"nice":false,"zero":false}},"y2":{"field":"top"}}},
   {"data":{"name":"brackets"},"transform":[{"filter":"datum.panel==='B3'"}],"mark":{"type":"rule","color":"#888","strokeWidth":1},
    "encoding":{"x":{"field":"g1","type":"nominal","scale":{"domain":["+PBS","+LPS","LPS|+ZM"],"paddingInner":0,"paddingOuter":0.146,"align":1}},"x2":{"field":"g2"},"y":{"field":"top","type":"quantitative","scale":{"domain":[30,100],"nice":false,"zero":false}}}},
   {"data":{"name":"brackets"},"transform":[{"filter":"datum.panel==='B3'"}],"mark":{"type":"text","fontSize":9.5,"color":"white","stroke":"white","strokeWidth":5,"baseline":"middle"},
    "encoding":{"x":{"field":"g1","type":"nominal","bandPosition":1,"scale":{"domain":["+PBS","+LPS","LPS|+ZM"],"paddingInner":0,"paddingOuter":0.146,"align":1}},"y":{"field":"top","type":"quantitative","scale":{"domain":[30,100],"nice":false,"zero":false}},"text":{"field":"p"}}},
   {"data":{"name":"brackets"},"transform":[{"filter":"datum.panel==='B3'"}],"mark":{"type":"text","fontSize":9.5,"color":"#333","baseline":"middle"},
    "encoding":{"x":{"field":"g1","type":"nominal","bandPosition":1,"scale":{"domain":["+PBS","+LPS","LPS|+ZM"],"paddingInner":0,"paddingOuter":0.146,"align":1}},"y":{"field":"top","type":"quantitative","scale":{"domain":[30,100],"nice":false,"zero":false}},"text":{"field":"p"}}}
  ]}
 ]}
]
}
